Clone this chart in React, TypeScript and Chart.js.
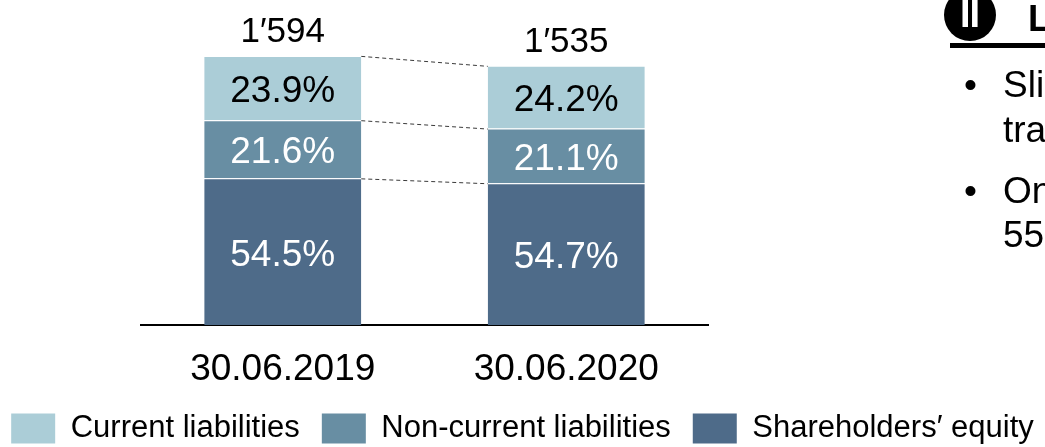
import React, { useEffect, useRef } from "react";
import { Chart, registerables } from "chart.js";

Chart.register(...registerables);

const FONT = "'Liberation Sans', Arial, sans-serif";

const categories = ["30.06.2019", "30.06.2020"];
const totals = [1594, 1535];
const currentLiabPct = [23.9, 24.2];
const nonCurrentLiabPct = [21.6, 21.1];
const equityPct = [54.5, 54.7];
const seriesNames = ["Shareholders′ equity", "Non-current liabilities", "Current liabilities"];
const seriesColors = ["#4E6B89", "#688EA3", "#ABCDD7"];
const labelColors = ["#FFFFFF", "#FFFFFF", "#000000"];
const seriesPct = [equityPct, nonCurrentLiabPct, currentLiabPct];

const EXTRA = 20; // canvas extends past both page edges so the legend fits on one row
const CANVAS_W = 1045 + 2 * EXTRA;
const CANVAS_H = 454;

const fmtTotal = (v: number) =>
  `${Math.floor(v / 1000)}′${String(v % 1000).padStart(3, "0")}`;

const labelPlugin = {
  id: "barLabels",
  afterDatasetsDraw(chart: any) {
    const ctx = chart.ctx;
    ctx.save();
    chart.data.datasets.forEach((_ds: any, i: number) => {
      const meta = chart.getDatasetMeta(i);
      const a = meta.data[0];
      const b = meta.data[1];
      if (!a || !b) return;
      ctx.setLineDash([4, 3]);
      ctx.strokeStyle = "#3a3a3a";
      ctx.lineWidth = 1;
      ctx.beginPath();
      ctx.moveTo(a.x + a.width / 2, a.y + 0.5);
      ctx.lineTo(b.x - b.width / 2, b.y + 0.5);
      ctx.stroke();
    });
    ctx.setLineDash([]);
    ctx.textAlign = "center";
    ctx.textBaseline = "alphabetic";
    ctx.font = `37px ${FONT}`;
    chart.data.datasets.forEach((_ds: any, i: number) => {
      const meta = chart.getDatasetMeta(i);
      meta.data.forEach((bar: any, j: number) => {
        const cy = (bar.y + bar.base) / 2;
        ctx.fillStyle = labelColors[i];
        ctx.fillText(`${seriesPct[i][j].toFixed(1)}%`, bar.x, cy + 14);
      });
    });
    const topMeta = chart.getDatasetMeta(chart.data.datasets.length - 1);
    ctx.font = `35px ${FONT}`;
    ctx.fillStyle = "#000000";
    topMeta.data.forEach((bar: any, j: number) => {
      ctx.fillText(fmtTotal(totals[j]), bar.x, bar.y - 14);
    });
    ctx.restore();
  },
};

export default function App() {
  const ref = useRef<HTMLCanvasElement | null>(null);

  useEffect(() => {
    if (!ref.current) return;
    const datasets = seriesNames.map((name, i) => ({
      label: name,
      data: totals.map((t, j) => (t * seriesPct[i][j]) / 100),
      backgroundColor: seriesColors[i],
      borderColor: "#FFFFFF",
      borderWidth: { top: 1, right: 0, bottom: 0, left: 0 },
      borderSkipped: false as any,
      categoryPercentage: 1,
      barPercentage: 0.554,
    }));
    const chart = new Chart(ref.current, {
      type: "bar",
      data: { labels: categories, datasets },
      options: {
        animation: false,
        responsive: false,
        maintainAspectRatio: false,
        layout: { padding: 0 },
        plugins: {
          tooltip: { enabled: false },
          legend: {
            position: "bottom",
            reverse: true,
            labels: {
              boxWidth: 44,
              boxHeight: 30,
              padding: 22,
              color: "#000000",
              font: { family: FONT, size: 31 },
              generateLabels: (c: any) =>
                (Chart.defaults.plugins.legend.labels as any)
                  .generateLabels(c)
                  .map((l: any) => ({ ...l, lineWidth: 0 })),
            },
          },
        },
        scales: {
          x: {
            stacked: true,
            grid: { display: false },
            border: { display: true, color: "#000000", width: 2 },
            ticks: {
              color: "#000000",
              font: { family: FONT, size: 37 },
              padding: 15,
              maxRotation: 0,
            },
            afterFit: (s: any) => {
              s.height = 66;
            },
          },
          y: {
            stacked: true,
            min: 0,
            max: 1925,
            display: true,
            grid: { display: false },
            border: { display: false },
            ticks: { display: false },
            afterFit: (s: any) => {
              s.width = 141 + EXTRA;
            },
          },
          y2: {
            type: "linear",
            position: "right",
            min: 0,
            max: 1925,
            display: true,
            grid: { display: false },
            border: { display: false },
            ticks: { display: false },
            afterFit: (s: any) => {
              s.width = 337 + EXTRA;
            },
          },
        },
      },
      plugins: [labelPlugin],
    });
    return () => chart.destroy();
  }, []);

  const textStyle: React.CSSProperties = {
    position: "absolute",
    fontFamily: FONT,
    fontSize: 37,
    lineHeight: "44.4px",
    whiteSpace: "nowrap",
    color: "#000",
  };

  return (
    <div
      style={{
        position: "fixed",
        left: 0,
        top: 0,
        width: 1045,
        height: 447,
        overflow: "hidden",
        background: "#fff",
      }}
    >
      <canvas
        ref={ref}
        width={CANVAS_W}
        height={CANVAS_H}
        style={{ position: "absolute", left: -EXTRA, top: 0, width: CANVAS_W, height: CANVAS_H }}
      />
      <div
        style={{
          position: "absolute",
          left: 943.5,
          top: -11.5,
          width: 52,
          height: 52,
          borderRadius: "50%",
          background: "#000",
        }}
      />
      <div
        style={{
          ...textStyle,
          left: 943.5,
          width: 52,
          textAlign: "center",
          top: -7.7,
          fontSize: 38,
          lineHeight: "45.6px",
          fontWeight: "bold",
          color: "#fff",
          letterSpacing: -1,
        }}
      >
        II
      </div>
      <div style={{ ...textStyle, left: 1028, top: -3.4, fontWeight: "bold" }}>
        Liabilities and equity
      </div>
      <div
        style={{ position: "absolute", left: 950, top: 43, width: 200, height: 5, background: "#000" }}
      />
      <div style={{ ...textStyle, left: 964, top: 63.2 }}>•</div>
      <div style={{ ...textStyle, left: 1003, top: 63.2 }}>
        Slight increase in
        <br />
        trade payables
      </div>
      <div style={{ ...textStyle, left: 964, top: 169 }}>•</div>
      <div style={{ ...textStyle, left: 1003, top: 169 }}>
        Ongoing equity ratio of
        <br />
        55%
      </div>
    </div>
  );
}
